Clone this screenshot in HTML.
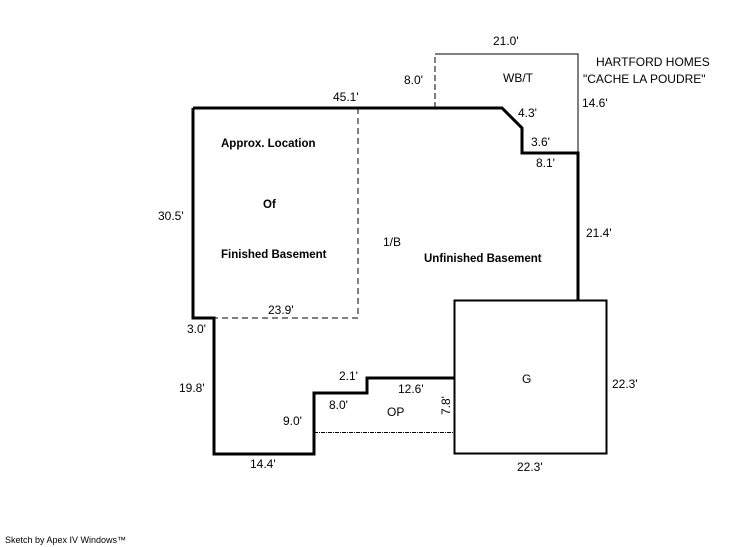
<!DOCTYPE html>
<html><head><style>
body{margin:0;background:#fff;}
svg{display:block;}
text{font-family:"Liberation Sans",Arial,sans-serif;font-size:12px;fill:#000;}
.b{font-weight:bold;font-size:11.5px;}
</style></head><body>
<svg width="746" height="547" viewBox="0 0 746 547">
<g fill="none" stroke="#000">
<line x1="435" y1="108" x2="435" y2="54" stroke-width="1" stroke-dasharray="6,3"/>
<polyline stroke-width="1" points="435,54 578,54 578,153"/>
<polyline stroke-width="3" points="193,108 502,108 522,128 522,153 578,153 578,300"/>
<polyline stroke-width="3" points="193,108 193,318 214,318 214,454 314,454 314,393 367,393 367,378 454,378"/>
<rect x="454.5" y="300.5" width="152" height="153" stroke-width="2"/>
<polyline stroke-width="1" stroke-dasharray="6,4" points="358,108 358,318 214,318"/>
<line x1="314" y1="432.5" x2="454" y2="432.5" stroke-width="1" stroke-dasharray="4,1,1,1"/>
</g>
<text x="493" y="45">21.0'</text>
<text x="596" y="66">HARTFORD HOMES</text>
<text x="583" y="83">"CACHE LA POUDRE"</text>
<text x="404" y="84">8.0'</text>
<text x="503" y="82">WB/T</text>
<text x="582" y="107">14.6'</text>
<text x="333" y="101">45.1'</text>
<text x="518" y="117">4.3'</text>
<text x="531" y="146">3.6'</text>
<text x="536" y="167">8.1'</text>
<text class="b" x="221" y="147">Approx. Location</text>
<text class="b" x="263" y="208">Of</text>
<text class="b" x="221" y="258">Finished Basement</text>
<text x="158" y="220">30.5'</text>
<text x="383" y="246">1/B</text>
<text class="b" x="424" y="262">Unfinished Basement</text>
<text x="586" y="237">21.4'</text>
<text x="268" y="314">23.9'</text>
<text x="187" y="333">3.0'</text>
<text x="179" y="392">19.8'</text>
<text x="339" y="380">2.1'</text>
<text x="398" y="393">12.6'</text>
<text x="329" y="409">8.0'</text>
<text x="387" y="416">OP</text>
<text x="283" y="425">9.0'</text>
<text x="522" y="383">G</text>
<text x="612" y="388">22.3'</text>
<text x="436" y="409" transform="rotate(-90 446 405)">7.8'</text>
<text x="250" y="468">14.4'</text>
<text x="517" y="471">22.3'</text>
<text x="5" y="543" style="font-size:9px">Sketch by Apex IV Windows™</text>
</svg>
</body></html>
